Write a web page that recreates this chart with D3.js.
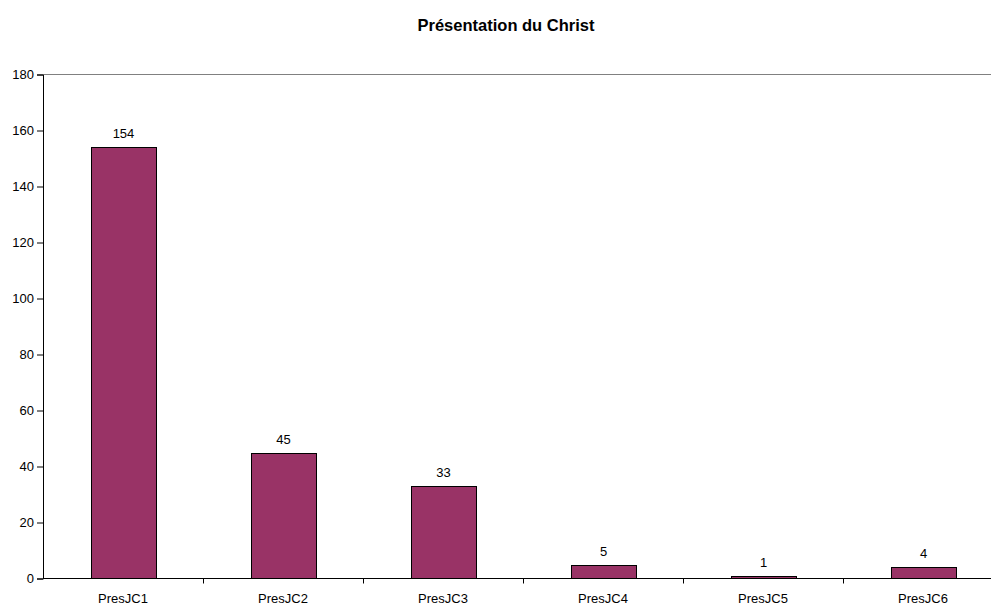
<!DOCTYPE html>
<html><head><meta charset="utf-8">
<script src="https://cdn.jsdelivr.net/npm/d3@7"></script>
<style>body{margin:0;background:#fff;} text{font-family:"Liberation Sans",Arial,sans-serif;}</style>
</head><body>
<svg id="c" width="991" height="606"></svg>
<script>
const categories = ["PresJC1","PresJC2","PresJC3","PresJC4","PresJC5","PresJC6"];
const values = [154,45,33,5,1,4];
const yTicks = [0,20,40,60,80,100,120,140,160,180];
const title = "Présentation du Christ";

(function(){
const svg = d3.select("#c");
const pLeft = 43, pRight = 1003, pTop = 74.5, pBottom = 578.5;
const x = d3.scaleBand().domain(categories).range([pLeft, pRight]).paddingInner(0.59375).paddingOuter(0.296875);
const y = d3.scaleLinear().domain([0,180]).range([pBottom, pTop]);

svg.append("line").attr("x1", pLeft).attr("x2", pRight).attr("y1", pTop).attr("y2", pTop).attr("stroke", "#808080").attr("stroke-width", 1);

svg.append("g").selectAll("rect").data(values).join("rect")
  .attr("x", (d,i) => Math.round(x(categories[i])) + 0.5)
  .attr("y", d => Math.round(y(d)) + 0.5)
  .attr("width", Math.round(x.bandwidth()))
  .attr("height", d => pBottom - Math.round(y(d)) - 0.5)
  .attr("fill", "#993366").attr("stroke", "#000").attr("stroke-width", 1);

svg.append("g").selectAll("text").data(values).join("text")
  .attr("x", (d,i) => x(categories[i]) + x.bandwidth()/2 + 0.5)
  .attr("y", d => y(d) - 9)
  .attr("text-anchor", "middle").attr("font-size", 13).attr("fill", "#000")
  .text(d => d);

const ya = d3.axisLeft(y).tickValues(yTicks).tickSize(6).tickPadding(3);
const gy = svg.append("g").attr("transform", `translate(${pLeft},0)`).call(ya);
gy.selectAll("text").attr("font-size", 13).attr("fill", "#000").style("font-family", "Liberation Sans, Arial, sans-serif");
gy.selectAll("line,path").attr("stroke", "#000");

const xb = d3.scaleBand().domain(categories).range([pLeft, pRight]);
const gx = svg.append("g").attr("transform", `translate(0,${pBottom})`);
gx.append("line").attr("x1", pLeft).attr("x2", pRight).attr("stroke", "#000");
gx.selectAll("line.t").data(categories.slice(1)).join("line").attr("class","t")
  .attr("x1", d => xb(d) + 0.5).attr("x2", d => xb(d) + 0.5).attr("y1", 0).attr("y2", 5).attr("stroke", "#000");
gx.selectAll("text").data(categories).join("text")
  .attr("x", d => xb(d) + xb.bandwidth()/2).attr("y", 24.5)
  .attr("text-anchor", "middle").attr("font-size", 13).attr("fill", "#000").text(d => d);

svg.append("text").attr("x", 506).attr("y", 31).attr("text-anchor", "middle")
  .attr("font-size", 16.5).attr("font-weight", "bold").text(title);
})();
</script>
</body></html>
